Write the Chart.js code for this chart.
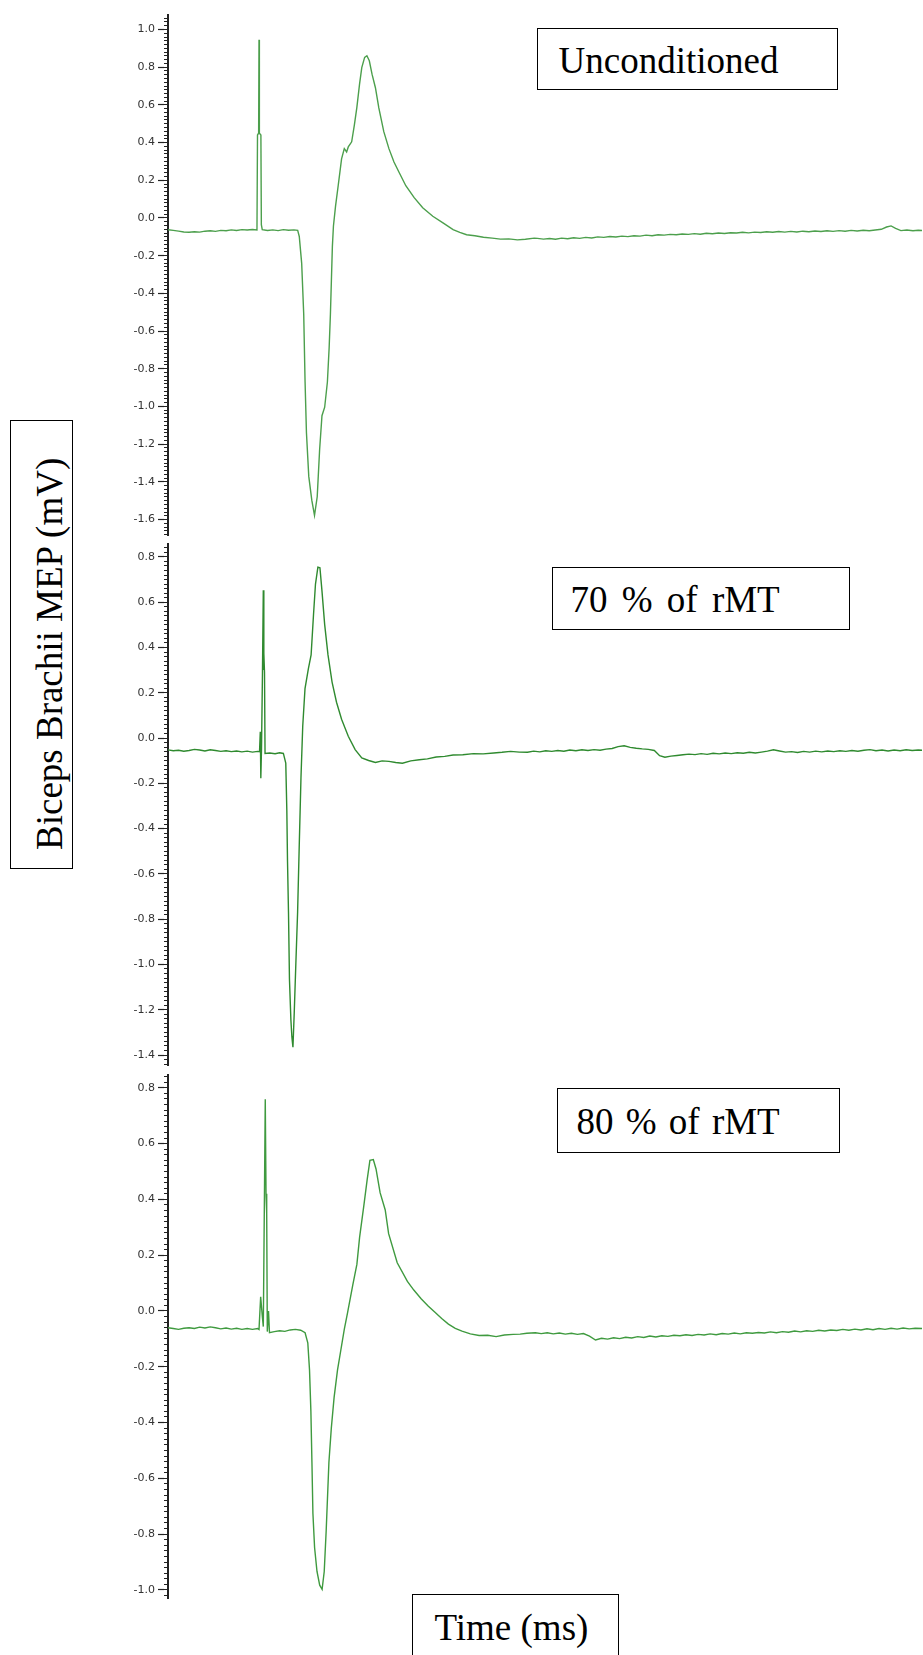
<!DOCTYPE html>
<html>
<head>
<meta charset="utf-8">
<title>Biceps Brachii MEP</title>
<script src="https://cdn.jsdelivr.net/npm/chart.js@4.4.1/dist/chart.umd.min.js"></script>
<style>
  html, body { margin: 0; background: #fff; }
  body { position: relative; width: 923px; height: 1655px; overflow: hidden; }
  canvas.trace { position: absolute; left: 0; }
  .box { position: absolute; box-sizing: border-box; border: 1.5px solid #000; background: #fff; }
  .box span { position: absolute; white-space: nowrap; font-family: "Liberation Serif", "Times New Roman", serif; font-size: 37px; line-height: 1; color: #000; }
</style>
</head>
<body>
<canvas id="uncond" class="trace" width="923" height="540" style="top:5px"></canvas>
<canvas id="mt70" class="trace" width="923" height="541" style="top:534px"></canvas>
<canvas id="mt80" class="trace" width="923" height="543" style="top:1065px"></canvas>

<div class="box" style="left:537px;top:28px;width:301px;height:62px"><span style="left:20.5px;top:12.5px">Unconditioned</span></div>
<div class="box" style="left:552px;top:567px;width:298px;height:63px"><span style="left:17.5px;top:12.5px;word-spacing:5px">70 % of rMT</span></div>
<div class="box" style="left:557px;top:1088px;width:283px;height:65px"><span style="left:18.5px;top:13.5px;word-spacing:3px">80 % of rMT</span></div>
<div class="box" style="left:412px;top:1594px;width:207px;height:80px"><span style="left:21.5px;top:13.5px">Time (ms)</span></div>
<div class="box" style="left:10px;top:420px;width:63px;height:449px"><span style="left:19.5px;top:428.5px;transform-origin:0 0;transform:rotate(-90deg)">Biceps Brachii MEP (mV)</span></div>

<script>
// MEP sweeps, [time (ms), amplitude (mV)]
const unconditioned = [
  [0, -0.062], [0.7, -0.066], [1.4, -0.07], [2.1, -0.074], [2.8, -0.076], [3.5, -0.073],
  [4.2, -0.075], [4.9, -0.07], [5.6, -0.068], [6.3, -0.071], [7.0, -0.066], [7.7, -0.068],
  [8.4, -0.063], [9.1, -0.066], [9.8, -0.062], [10.5, -0.064], [11.2, -0.061], [11.8, -0.064],
  // stimulus artefact
  [11.87, 0.44], [12.02, 0.45], [12.07, 0.946], [12.12, 0.45], [12.32, 0.44], [12.38, -0.035], [12.5, -0.062],
  [13.2, -0.066], [13.9, -0.063], [14.6, -0.067], [15.3, -0.062], [16.0, -0.065], [16.7, -0.063], [17.2, -0.066],
  // MEP
  [17.41, -0.098], [17.73, -0.241], [18.0, -0.511], [18.18, -0.87], [18.36, -1.138], [18.67, -1.371],
  [19.07, -1.497], [19.43, -1.578], [19.79, -1.479], [20.11, -1.228], [20.42, -1.049], [20.78, -1.004],
  [21.14, -0.87], [21.37, -0.69], [21.54, -0.511], [21.67, -0.332], [21.8, -0.152], [21.94, -0.044],
  [22.22, 0.063], [22.57, 0.171], [23.02, 0.314], [23.38, 0.368], [23.69, 0.35], [23.91, 0.377],
  [24.36, 0.404], [24.72, 0.494], [25.04, 0.584], [25.4, 0.709], [25.7, 0.798], [26.08, 0.852],
  [26.38, 0.861], [26.7, 0.834], [27.06, 0.763], [27.51, 0.691], [27.96, 0.584], [28.62, 0.458],
  [29.3, 0.368], [29.97, 0.297], [30.64, 0.243], [31.54, 0.171], [32.65, 0.108], [33.78, 0.054],
  [35.12, 0.009], [36.47, -0.026], [37.81, -0.062], [38.7, -0.076], [39.6, -0.089], [40.7, -0.094],
  [41.84, -0.102], [43.0, -0.107], [44.09, -0.112], [45.2, -0.111], [46.34, -0.116], [47.4, -0.113],
  [48.58, -0.107],
  // baseline
  [49.0, -0.108], [49.8, -0.112], [50.6, -0.109], [51.4, -0.113], [52.2, -0.107], [53.0, -0.11],
  [53.8, -0.105], [54.6, -0.108], [55.4, -0.103], [56.2, -0.106], [57.0, -0.1], [57.8, -0.103],
  [58.6, -0.098], [59.4, -0.101], [60.2, -0.096], [61.0, -0.099], [61.8, -0.094], [62.6, -0.096],
  [63.4, -0.091], [64.2, -0.094], [65.0, -0.089], [65.8, -0.091], [66.6, -0.087], [67.4, -0.089],
  [68.2, -0.085], [69.0, -0.087], [69.8, -0.083], [70.6, -0.086], [71.4, -0.081], [72.2, -0.084],
  [73.0, -0.08], [73.8, -0.082], [74.6, -0.078], [75.4, -0.08], [76.2, -0.076], [77.0, -0.079],
  [77.8, -0.075], [78.6, -0.077], [79.4, -0.073], [80.2, -0.076], [81.0, -0.072], [81.8, -0.075],
  [82.6, -0.071], [83.4, -0.074], [84.2, -0.07], [85.0, -0.073], [85.8, -0.069], [86.6, -0.072],
  [87.4, -0.068], [88.2, -0.071], [89.0, -0.067], [89.8, -0.07], [90.6, -0.066], [91.4, -0.069],
  [92.2, -0.065], [93.0, -0.068], [93.8, -0.064], [94.6, -0.06], [95.3, -0.048], [95.9, -0.042],
  [96.5, -0.055], [97.2, -0.067], [98.0, -0.064], [98.8, -0.068], [99.5, -0.065], [100, -0.066]
];

const rmt70 = [
  [0, -0.052], [0.7, -0.056], [1.4, -0.054], [2.1, -0.058], [2.8, -0.055], [3.5, -0.05],
  [4.2, -0.053], [4.9, -0.057], [5.6, -0.052], [6.3, -0.055], [7.0, -0.059], [7.7, -0.056],
  [8.4, -0.06], [9.1, -0.057], [9.8, -0.061], [10.5, -0.058], [11.2, -0.062], [11.9, -0.059],
  // conditioning + test stimulus artefact
  [12.14, -0.06], [12.24, 0.028], [12.31, -0.178], [12.4, -0.05], [12.53, 0.29], [12.64, 0.653],
  [12.69, 0.3], [12.73, 0.374], [12.8, 0.29], [12.87, -0.068],
  [13.5, -0.066], [14.2, -0.069], [14.8, -0.065], [15.3, -0.068],
  // MEP
  [15.62, -0.111], [15.76, -0.32], [15.85, -0.544], [15.98, -0.768], [16.11, -1.066], [16.3, -1.245],
  [16.43, -1.32], [16.57, -1.365], [16.74, -1.215], [16.96, -0.992], [17.19, -0.768], [17.41, -0.469],
  [17.64, -0.17], [17.87, 0.053], [18.17, 0.218], [18.62, 0.307], [18.98, 0.367], [19.3, 0.546],
  [19.56, 0.68], [19.88, 0.755], [20.15, 0.752], [20.42, 0.65], [20.78, 0.501], [21.22, 0.367],
  [21.76, 0.247], [22.35, 0.158], [23.02, 0.083], [23.91, 0.008], [24.82, -0.051], [25.7, -0.088],
  [26.61, -0.099], [27.51, -0.108], [28.4, -0.101], [29.3, -0.103], [30.2, -0.108], [31.09, -0.111],
  [32.2, -0.101], [33.33, -0.096], [34.4, -0.092], [35.57, -0.084], [36.7, -0.081], [37.81, -0.075],
  [39.1, -0.074], [40.51, -0.069], [41.8, -0.07], [43.2, -0.066], [44.3, -0.063], [45.44, -0.059],
  [46.6, -0.062], [47.68, -0.063],
  // baseline
  [48.5, -0.058], [49.3, -0.061], [50.1, -0.056], [50.9, -0.059], [51.7, -0.055], [52.5, -0.058],
  [53.3, -0.053], [54.1, -0.056], [54.9, -0.052], [55.7, -0.055], [56.5, -0.051], [57.3, -0.054],
  [58.1, -0.049], [58.9, -0.046], [59.7, -0.038], [60.5, -0.034], [61.3, -0.041], [62.1, -0.045],
  [62.9, -0.048], [63.7, -0.05], [64.5, -0.055], [65.2, -0.078], [65.9, -0.085], [66.7, -0.08],
  [67.5, -0.077], [68.3, -0.074], [69.1, -0.071], [69.9, -0.073], [70.7, -0.069], [71.5, -0.072],
  [72.3, -0.067], [73.1, -0.07], [73.9, -0.066], [74.7, -0.069], [75.5, -0.065], [76.3, -0.067],
  [77.1, -0.063], [77.9, -0.066], [78.7, -0.062], [79.5, -0.058], [80.3, -0.052], [81.1, -0.057],
  [81.9, -0.062], [82.7, -0.06], [83.5, -0.064], [84.3, -0.059], [85.1, -0.062], [85.9, -0.058],
  [86.7, -0.061], [87.5, -0.057], [88.3, -0.06], [89.1, -0.056], [89.9, -0.059], [90.7, -0.055],
  [91.5, -0.058], [92.3, -0.054], [93.1, -0.051], [93.9, -0.056], [94.7, -0.053], [95.5, -0.057],
  [96.3, -0.053], [97.1, -0.056], [97.9, -0.052], [98.7, -0.055], [99.5, -0.053], [100, -0.054]
];

const rmt80 = [
  [0, -0.06], [0.7, -0.063], [1.4, -0.066], [2.1, -0.062], [2.8, -0.06], [3.5, -0.063],
  [4.2, -0.058], [4.9, -0.061], [5.6, -0.057], [6.3, -0.06], [7.0, -0.064], [7.7, -0.061],
  [8.4, -0.065], [9.1, -0.062], [9.8, -0.066], [10.5, -0.063], [11.2, -0.066], [11.9, -0.063],
  // conditioning + test stimulus artefact
  [12.07, -0.066], [12.29, 0.051], [12.51, -0.02], [12.64, -0.056], [12.77, 0.35], [12.9, 0.759],
  [13.0, 0.42], [13.09, 0.35], [13.17, -0.074], [13.33, 0.0], [13.46, -0.078],
  [14.1, -0.074], [14.8, -0.071], [15.5, -0.073], [16.2, -0.068], [16.9, -0.066], [17.6, -0.069],
  // MEP
  [18.18, -0.078], [18.54, -0.114], [18.77, -0.212], [18.95, -0.359], [19.09, -0.543], [19.22, -0.726],
  [19.44, -0.848], [19.76, -0.934], [20.12, -0.983], [20.44, -0.998], [20.72, -0.934], [20.98, -0.787],
  [21.34, -0.543], [21.66, -0.42], [22.03, -0.31], [22.48, -0.212], [22.93, -0.139], [23.38, -0.066],
  [23.83, -0.004], [24.51, 0.094], [25.05, 0.167], [25.41, 0.264], [25.96, 0.375], [26.42, 0.472],
  [26.78, 0.54], [27.23, 0.543], [27.59, 0.509], [28.13, 0.424], [28.81, 0.362], [29.26, 0.277],
  [30.4, 0.173], [31.75, 0.106], [32.6, 0.075], [33.57, 0.044], [34.5, 0.018], [35.37, -0.004],
  [36.3, -0.027], [37.19, -0.047], [38.1, -0.062], [38.99, -0.072], [40.1, -0.082], [41.26, -0.088],
  [42.4, -0.087], [43.52, -0.092], [44.6, -0.086], [45.78, -0.084], [46.7, -0.083], [47.59, -0.08],
  [48.73, -0.078],
  // baseline
  [49.5, -0.081], [50.3, -0.078], [51.1, -0.082], [51.9, -0.079], [52.7, -0.083], [53.5, -0.08],
  [54.3, -0.084], [55.1, -0.081], [55.9, -0.09], [56.7, -0.104], [57.5, -0.098], [58.3, -0.101],
  [59.1, -0.096], [59.9, -0.099], [60.7, -0.094], [61.5, -0.097], [62.3, -0.092], [63.1, -0.095],
  [63.9, -0.09], [64.7, -0.093], [65.5, -0.089], [66.3, -0.091], [67.1, -0.087], [67.9, -0.089],
  [68.7, -0.085], [69.5, -0.088], [70.3, -0.084], [71.1, -0.086], [71.9, -0.082], [72.7, -0.085],
  [73.5, -0.081], [74.3, -0.083], [75.1, -0.079], [75.9, -0.082], [76.7, -0.078], [77.5, -0.08],
  [78.3, -0.077], [79.1, -0.079], [79.9, -0.075], [80.7, -0.078], [81.5, -0.074], [82.3, -0.076],
  [83.1, -0.072], [83.9, -0.075], [84.7, -0.071], [85.5, -0.073], [86.3, -0.069], [87.1, -0.072],
  [87.9, -0.068], [88.7, -0.07], [89.5, -0.066], [90.3, -0.069], [91.1, -0.065], [91.9, -0.068],
  [92.7, -0.064], [93.5, -0.067], [94.3, -0.063], [95.1, -0.066], [95.9, -0.062], [96.7, -0.065],
  [97.5, -0.061], [98.3, -0.064], [99.1, -0.062], [100, -0.063]
];

// labelled ticks on each amplitude axis
const uncondTicks = [1.0, 0.8, 0.6, 0.4, 0.2, 0.0, -0.2, -0.4, -0.6, -0.8, -1.0, -1.2, -1.4, -1.6];
const rmt70Ticks = [0.8, 0.6, 0.4, 0.2, 0.0, -0.2, -0.4, -0.6, -0.8, -1.0, -1.2, -1.4];
const rmt80Ticks = [0.8, 0.6, 0.4, 0.2, 0.0, -0.2, -0.4, -0.6, -0.8, -1.0];

const MINOR_STEP = 0.02;

function drawTrace(id, trace, tickValues, yMin, yMax, colour) {
  new Chart(document.getElementById(id), {
    type: 'line',
    data: {
      datasets: [{
        data: trace.map(([t, v]) => ({ x: t, y: v })),
        borderColor: colour,
        borderWidth: 1.4,
        pointRadius: 0,
        tension: 0,
        fill: false
      }]
    },
    options: {
      responsive: false,
      animation: false,
      events: [],
      layout: { padding: { top: 10, bottom: 10, left: 0, right: 1 } },
      plugins: { legend: { display: false }, tooltip: { enabled: false } },
      scales: {
        x: { type: 'linear', min: 0, max: 100, display: false },
        y: {
          type: 'linear',
          position: 'left',
          weight: 1,
          min: yMin,
          max: yMax,
          bounds: 'data',
          afterBuildTicks: axis => { axis.ticks = tickValues.map(v => ({ value: v })); },
          afterFit: axis => { axis.width = 164; },
          ticks: {
            callback: v => v.toFixed(1),
            color: '#333',
            font: { family: 'DejaVu Sans', size: 11 },
            padding: 3
          },
          grid: { drawOnChartArea: false, tickLength: 6, tickColor: '#222', tickWidth: 1.2 },
          border: { display: false }
        },
        // ruler-style minor ticks every 0.02 mV
        minor: {
          type: 'linear',
          position: 'left',
          weight: 0,
          min: yMin,
          max: yMax,
          bounds: 'data',
          afterBuildTicks: axis => {
            const ticks = [];
            for (let k = Math.ceil(yMin / MINOR_STEP); k <= Math.floor(yMax / MINOR_STEP); k++) {
              ticks.push({ value: k * MINOR_STEP });
            }
            axis.ticks = ticks;
          },
          afterFit: axis => { axis.width = 4; },
          ticks: { display: false },
          grid: { drawOnChartArea: false, tickLength: 4, tickColor: '#222', tickWidth: 1 },
          border: { color: '#222', width: 2 }
        }
      }
    }
  });
}

drawTrace('uncond', unconditioned, uncondTicks, -1.682, 1.077, '#4c9f4c');
drawTrace('mt70', rmt70, rmt70Ticks, -1.444, 0.857, '#2f8a2f');
drawTrace('mt80', rmt80, rmt80Ticks, -1.029, 0.846, '#3f9a3f');
</script>
</body>
</html>
